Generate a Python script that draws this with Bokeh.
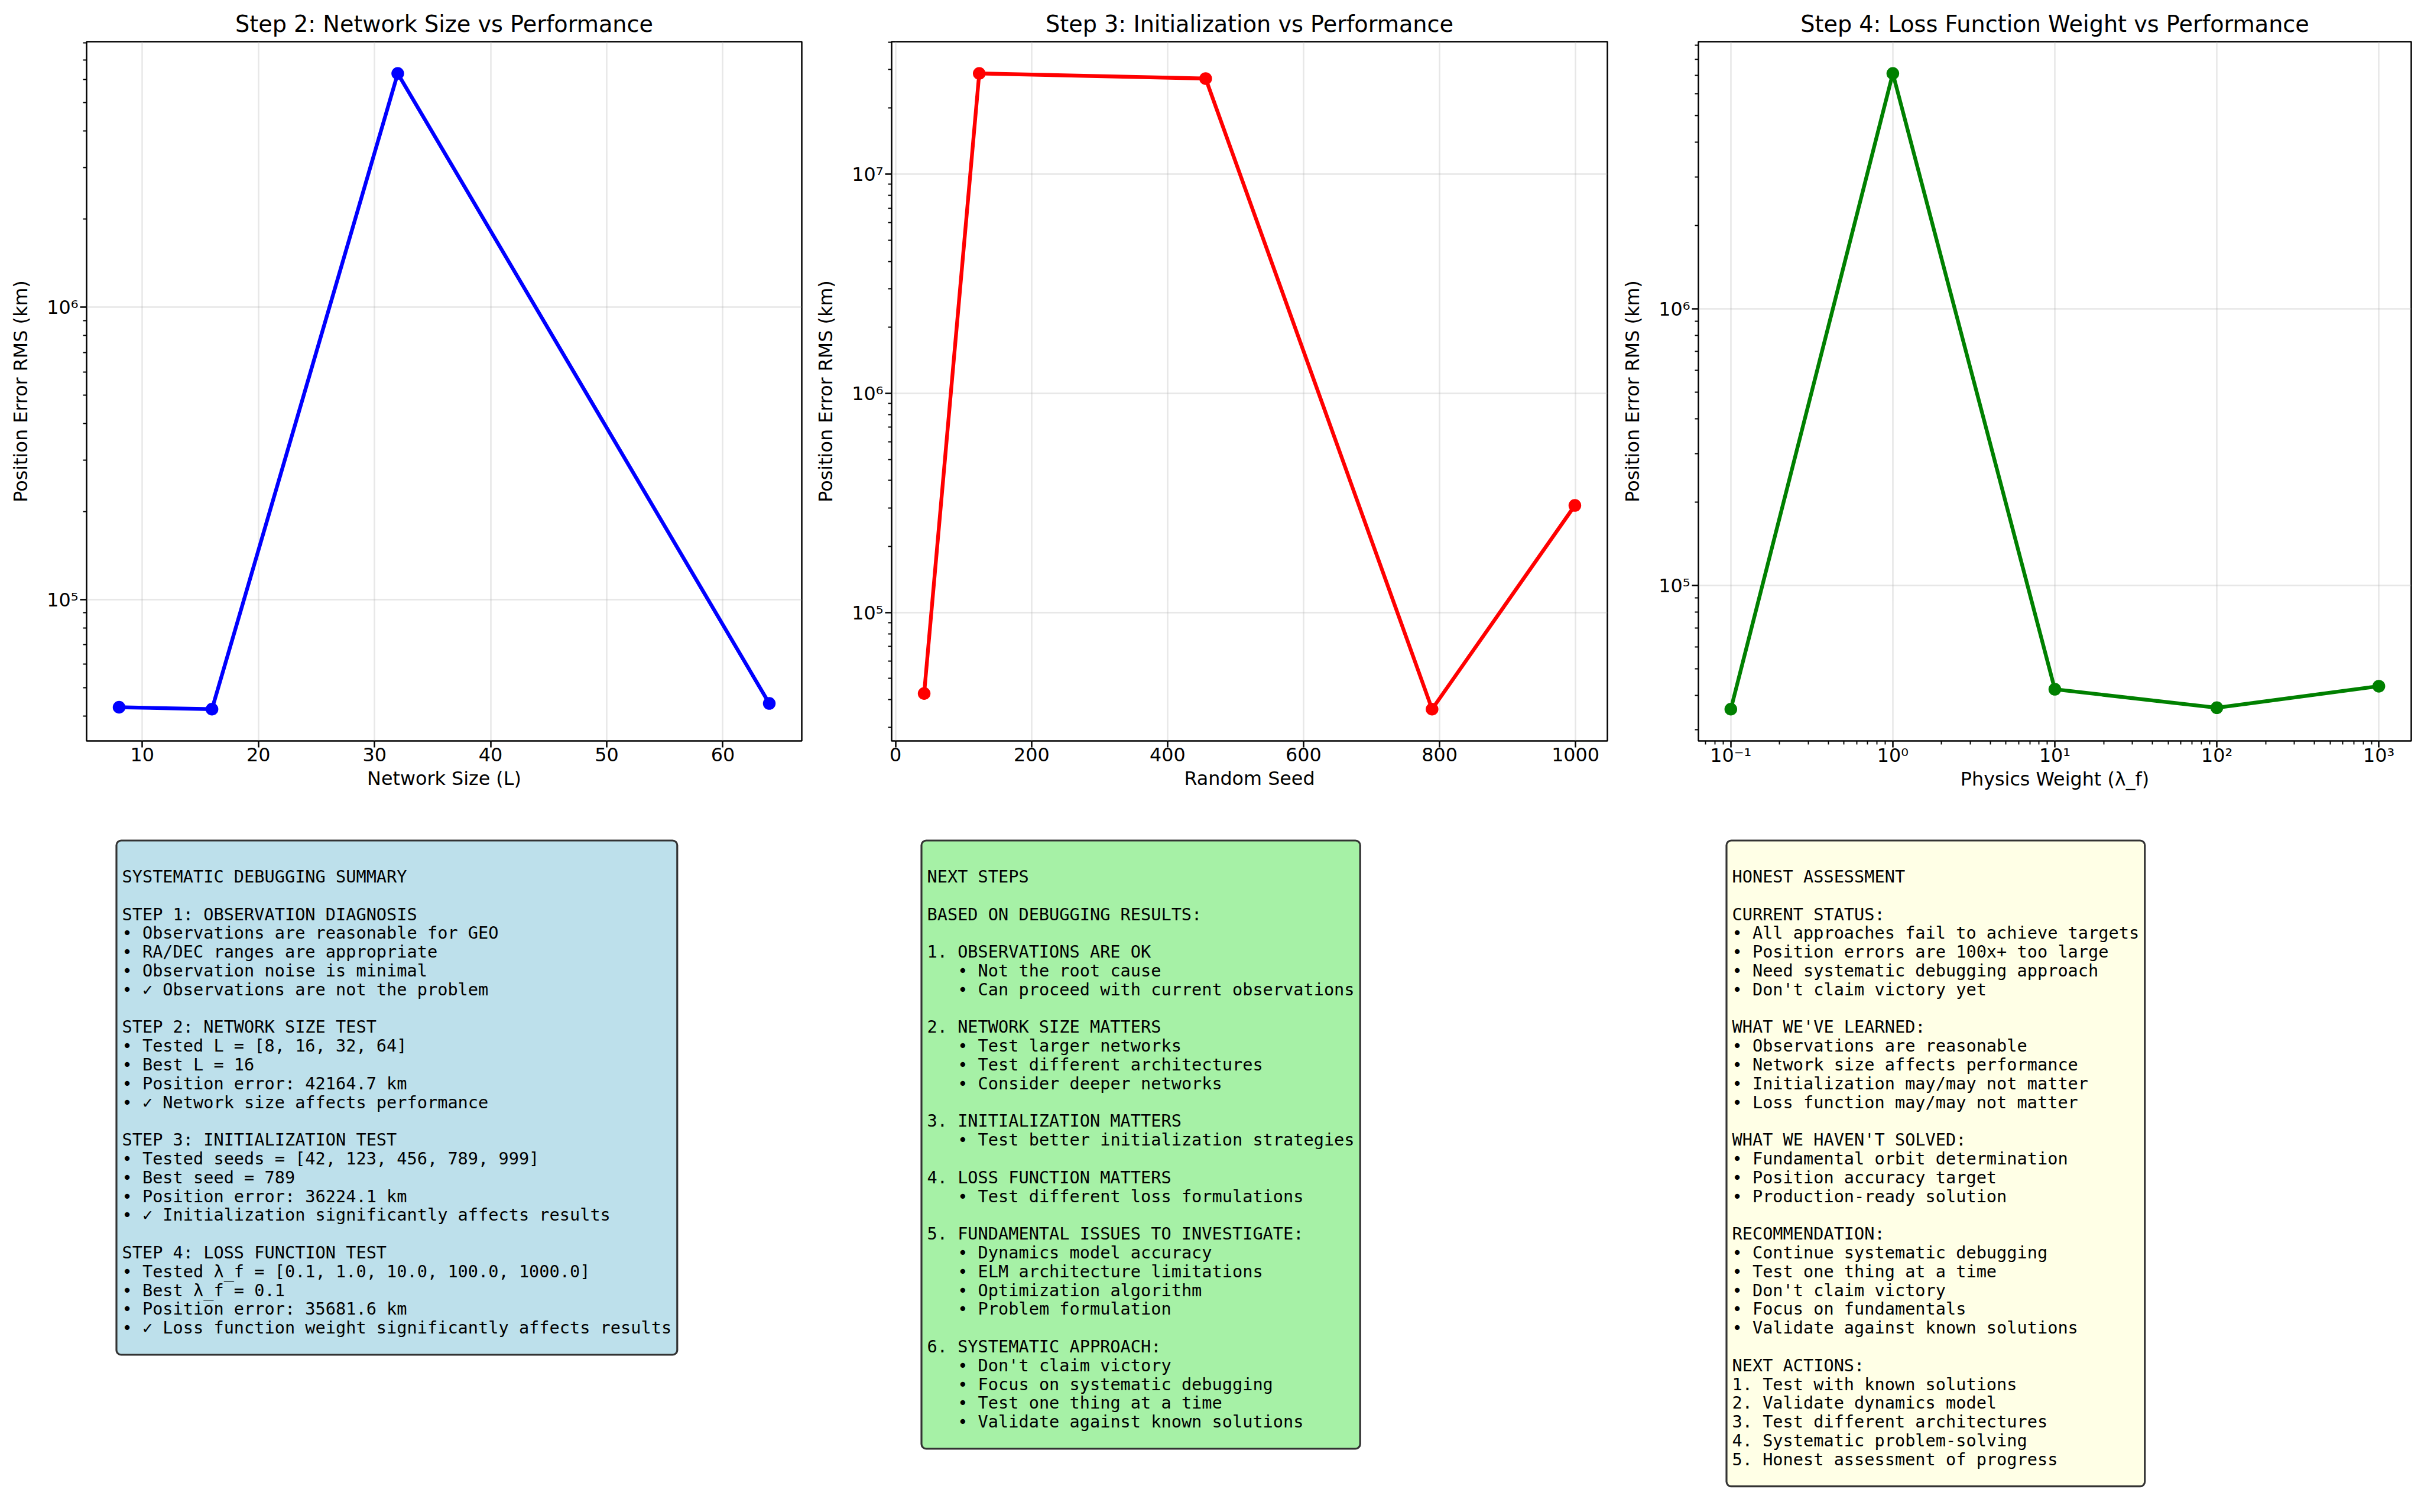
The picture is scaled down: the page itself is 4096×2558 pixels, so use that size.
import math
from bokeh.plotting import figure
from bokeh.layouts import column, row
from bokeh.models import Range1d, FixedTicker, CustomJSTickFormatter, BoxAnnotation, ColumnDataSource
from bokeh.core.properties import value
from bokeh.embed import file_html
from bokeh.resources import INLINE

# ---------------- data ----------------
network_sizes = [8, 16, 32, 64]
network_errors = [42800.0, 42164.7, 6300000.0, 44100.0]

seeds = [42, 123, 456, 789, 999]
seed_errors = [42700.0, 28800000.0, 27300000.0, 36224.1, 308000.0]

physics_weights = [0.1, 1.0, 10.0, 100.0, 1000.0]
weight_errors = [35681.6, 7100000.0, 42100.0, 36100.0, 43200.0]

titles = ["Step 2: Network Size vs Performance",
          "Step 3: Initialization vs Performance",
          "Step 4: Loss Function Weight vs Performance"]
x_labels = ["Network Size (L)", "Random Seed", "Physics Weight (λ_f)"]
y_label = "Position Error RMS (km)"
network_ticks = [10, 20, 30, 40, 50, 60]
seed_ticks = [0, 200, 400, 600, 800, 1000]

summary_lines = [
    "SYSTEMATIC DEBUGGING SUMMARY",
    "",
    "STEP 1: OBSERVATION DIAGNOSIS",
    "• Observations are reasonable for GEO",
    "• RA/DEC ranges are appropriate",
    "• Observation noise is minimal",
    "• ✓ Observations are not the problem",
    "",
    "STEP 2: NETWORK SIZE TEST",
    "• Tested L = [8, 16, 32, 64]",
    "• Best L = 16",
    "• Position error: 42164.7 km",
    "• ✓ Network size affects performance",
    "",
    "STEP 3: INITIALIZATION TEST",
    "• Tested seeds = [42, 123, 456, 789, 999]",
    "• Best seed = 789",
    "• Position error: 36224.1 km",
    "• ✓ Initialization significantly affects results",
    "",
    "STEP 4: LOSS FUNCTION TEST",
    "• Tested λ_f = [0.1, 1.0, 10.0, 100.0, 1000.0]",
    "• Best λ_f = 0.1",
    "• Position error: 35681.6 km",
    "• ✓ Loss function weight significantly affects results",
]

next_steps_lines = [
    "NEXT STEPS",
    "",
    "BASED ON DEBUGGING RESULTS:",
    "",
    "1. OBSERVATIONS ARE OK",
    "   • Not the root cause",
    "   • Can proceed with current observations",
    "",
    "2. NETWORK SIZE MATTERS",
    "   • Test larger networks",
    "   • Test different architectures",
    "   • Consider deeper networks",
    "",
    "3. INITIALIZATION MATTERS",
    "   • Test better initialization strategies",
    "",
    "4. LOSS FUNCTION MATTERS",
    "   • Test different loss formulations",
    "",
    "5. FUNDAMENTAL ISSUES TO INVESTIGATE:",
    "   • Dynamics model accuracy",
    "   • ELM architecture limitations",
    "   • Optimization algorithm",
    "   • Problem formulation",
    "",
    "6. SYSTEMATIC APPROACH:",
    "   • Don't claim victory",
    "   • Focus on systematic debugging",
    "   • Test one thing at a time",
    "   • Validate against known solutions",
]

assessment_lines = [
    "HONEST ASSESSMENT",
    "",
    "CURRENT STATUS:",
    "• All approaches fail to achieve targets",
    "• Position errors are 100x+ too large",
    "• Need systematic debugging approach",
    "• Don't claim victory yet",
    "",
    "WHAT WE'VE LEARNED:",
    "• Observations are reasonable",
    "• Network size affects performance",
    "• Initialization may/may not matter",
    "• Loss function may/may not matter",
    "",
    "WHAT WE HAVEN'T SOLVED:",
    "• Fundamental orbit determination",
    "• Position accuracy target",
    "• Production-ready solution",
    "",
    "RECOMMENDATION:",
    "• Continue systematic debugging",
    "• Test one thing at a time",
    "• Don't claim victory",
    "• Focus on fundamentals",
    "• Validate against known solutions",
    "",
    "NEXT ACTIONS:",
    "1. Test with known solutions",
    "2. Validate dynamics model",
    "3. Test different architectures",
    "4. Systematic problem-solving",
    "5. Honest assessment of progress",
]

# ---------------- layout constants (output pixels) ----------------
PAGE_W, PAGE_H = 4096, 2558
TOP_H = 1380
BOT_H = PAGE_H - TOP_H
FRAME_TOP = 70
FRAME_BOTTOM = 1253

FONT = "DejaVu Sans"
MONO = "DejaVu Sans Mono"
TICK_FS = "31.8px"
LABEL_FS = "31.8px"
TITLE_FS = "38.2px"

SUP = """
const sup = {"-":"\u207b","0":"\u2070","1":"\u00b9","2":"\u00b2","3":"\u00b3",
             "4":"\u2074","5":"\u2075","6":"\u2076","7":"\u2077","8":"\u2078","9":"\u2079"};
const e = Math.round(Math.log10(tick));
return "10" + String(e).split("").map(c => sup[c]).join("");
"""


def log_pad_range(vals, frac=0.05):
    lo, hi = math.log10(min(vals)), math.log10(max(vals))
    pad = frac * (hi - lo)
    return 10 ** (lo - pad), 10 ** (hi + pad)


def lin_pad_range(vals, frac=0.05):
    lo, hi = min(vals), max(vals)
    pad = frac * (hi - lo)
    return lo - pad, hi + pad


def log_ticker(lo, hi):
    k0 = math.floor(math.log10(lo)) - 1
    k1 = math.ceil(math.log10(hi)) + 1
    majors = [10.0 ** k for k in range(k0, k1 + 1) if lo <= 10.0 ** k <= hi]
    minors = [m * 10.0 ** k for k in range(k0, k1 + 1) for m in range(2, 10)
              if lo <= m * 10.0 ** k <= hi]
    return FixedTicker(ticks=majors, minor_ticks=minors)


def style(p):
    p.title.text_font = FONT
    p.title.text_font_size = TITLE_FS
    p.title.text_font_style = "normal"
    p.title.text_color = "black"
    p.title.align = "center"
    p.title.standoff = 16
    p.outline_line_color = "black"
    p.outline_line_width = 2.5
    p.outline_line_alpha = 1.0
    for ax in p.axis:
        ax.axis_line_color = None
        ax.major_tick_line_color = "black"
        ax.major_tick_line_width = 2.5
        ax.major_tick_out = 11
        ax.major_tick_in = 0
        ax.minor_tick_line_color = "black"
        ax.minor_tick_line_width = 1.9
        ax.minor_tick_out = 6
        ax.minor_tick_in = 0
        ax.major_label_text_font = FONT
        ax.major_label_text_font_size = TICK_FS
        ax.major_label_text_color = "black"
        ax.axis_label_text_font = FONT
        ax.axis_label_text_font_size = LABEL_FS
        ax.axis_label_text_font_style = "normal"
        ax.axis_label_text_color = "black"
    p.xaxis.major_label_standoff = 0
    p.xaxis.axis_label_standoff = 7
    p.yaxis.major_label_standoff = 3
    p.yaxis.axis_label_standoff = 23
    p.grid.grid_line_color = "#b0b0b0"
    p.grid.grid_line_alpha = 0.3
    p.grid.grid_line_width = 2.5


def panel(width, left, right, title, xlabel, xs, ys, color, x_log):
    if x_log:
        xr = log_pad_range(xs)
    else:
        xr = lin_pad_range(xs)
    yr = log_pad_range(ys)
    p = figure(width=width, height=TOP_H,
               x_axis_type="log" if x_log else "linear", y_axis_type="log",
               x_range=Range1d(*xr), y_range=Range1d(*yr),
               title=title, output_backend="svg", toolbar_location=None,
               min_border_left=left, min_border_right=right,
               min_border_top=FRAME_TOP, min_border_bottom=TOP_H - FRAME_BOTTOM)
    style(p)
    yt = log_ticker(*yr)
    p.yaxis.ticker = yt
    p.ygrid.ticker = yt
    p.yaxis.formatter = CustomJSTickFormatter(code=SUP)
    if x_log:
        xt = log_ticker(*xr)
        p.xaxis.formatter = CustomJSTickFormatter(code=SUP)
        p.xaxis.major_label_standoff = -6
        p.xaxis.axis_label_standoff = 0
    else:
        xt = FixedTicker(ticks=network_ticks if xlabel == x_labels[0] else seed_ticks)
        p.xaxis.minor_tick_line_color = None
    p.xaxis.ticker = xt
    p.xgrid.ticker = xt
    p.xaxis.axis_label = xlabel
    p.yaxis.axis_label = y_label
    p.line(xs, ys, line_color=color, line_width=6.36, line_join="round")
    p.scatter(xs, ys, size=19, fill_color=color, line_color=color, line_width=2.5)
    return p


p1 = panel(1372, 146, 16, titles[0], x_labels[0], network_sizes, network_errors, "#0000ff", False)
p2 = panel(1368, 136, 21, titles[1], x_labels[1], seeds, seed_errors, "#ff0000", False)
p3 = panel(1356, 130, 17, titles[2], x_labels[2], physics_weights, weight_errors, "#008000", True)

# ---------------- bottom text boxes ----------------
pb = figure(width=PAGE_W, height=BOT_H, x_range=Range1d(0, PAGE_W), y_range=Range1d(0, BOT_H),
            x_axis_location=None, y_axis_location=None, min_border=0,
            output_backend="svg", toolbar_location=None)
pb.grid.visible = False
pb.outline_line_color = None

MONO_FS = 28.6
CW = 0.60205 * MONO_FS
PITCH = 31.8
BASE0 = 1482.5          # page y of first text baseline
PAD_X = 9.5
TOP_GAP = 61.0
BOT_GAP = 45.8

boxes = [
    (summary_lines, 206.0, "#bde0eb"),
    (next_steps_lines, 1568.0, "#a6f1a6"),
    (assessment_lines, 2930.0, "#ffffe6"),
]


def to_data_y(page_y):
    return PAGE_H - page_y


for lines, x0, fill in boxes:
    maxlen = max(len(s) for s in lines)
    last_base = BASE0 + (len(lines) - 1) * PITCH
    box = BoxAnnotation(left=x0 - PAD_X, right=x0 + maxlen * CW + PAD_X,
                        top=to_data_y(BASE0 - TOP_GAP), bottom=to_data_y(last_base + BOT_GAP),
                        fill_color=fill, fill_alpha=1.0, line_color="#333333", line_alpha=1.0,
                        line_width=3.2, border_radius=8, level="underlay")
    pb.add_layout(box)
    xs, ys, txt = [], [], []
    for i, s in enumerate(lines):
        if not s.strip():
            continue
        indent = len(s) - len(s.lstrip(" "))
        xs.append(x0 + indent * CW)
        ys.append(to_data_y(BASE0 + i * PITCH))
        txt.append(s.strip())
    src = ColumnDataSource(dict(x=xs, y=ys, text=txt))
    pb.text(x="x", y="y", text="text", source=src, text_font=value(MONO),
            text_font_size=value(f"{MONO_FS}px"), text_color="black",
            text_align="left", text_baseline="alphabetic")

layout = column(row(p1, p2, p3, spacing=0), pb, spacing=0)

with open("out.html", "w") as f:
    f.write(file_html(layout, INLINE))
